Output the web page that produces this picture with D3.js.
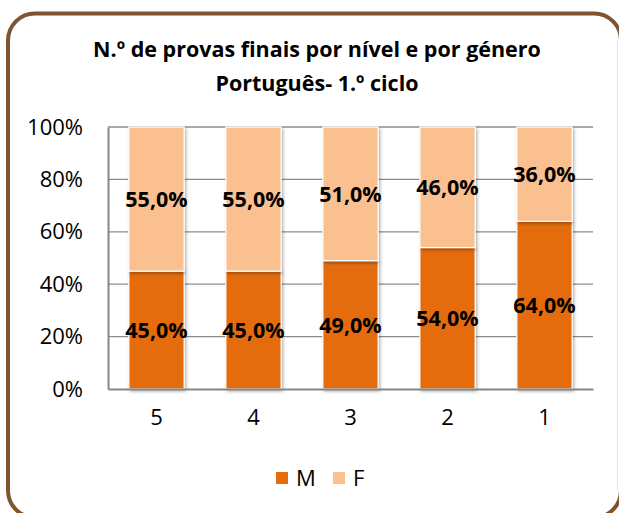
<!DOCTYPE html>
<html>
<head>
<meta charset="utf-8">
<script src="https://cdn.jsdelivr.net/npm/d3@7"></script>
<style>
  body { margin: 0; background: #fff; }
  text { font-family: "Open Sans", "Noto Sans", sans-serif; }
</style>
</head>
<body>
<div id="chart"></div>
<script>
var niveis = ["5", "4", "3", "2", "1"];
var masc = [45, 45, 49, 54, 64];
var fem = [55, 55, 51, 46, 36];
var series = ["M", "F"];
var yTicks = [0, 20, 40, 60, 80, 100];
var titulo = ["N.º de provas finais por nível e por género", "Português- 1.º ciclo"];

var W = 619, H = 513;
var margin = {top: 127, right: 26, bottom: 124, left: 108},
    width = W - margin.left - margin.right,
    height = H - margin.top - margin.bottom;
var cores = {M: "#E46C0A", F: "#FAC090"};

var svg = d3.select("#chart").append("svg")
    .attr("width", W)
    .attr("height", H);

var defs = svg.append("defs");
var sombra = defs.append("filter").attr("id", "sombra")
    .attr("x", "-20%").attr("y", "-5%").attr("width", "150%").attr("height", "115%");
sombra.append("feDropShadow")
    .attr("dx", 1.5).attr("dy", 2).attr("stdDeviation", 1.5)
    .attr("flood-color", "#000").attr("flood-opacity", 0.3);

// moldura
svg.append("rect")
    .attr("x", 8).attr("y", 13.5)
    .attr("width", 613).attr("height", 504)
    .attr("rx", 27)
    .attr("fill", "#fff")
    .attr("stroke", "#7F5530")
    .attr("stroke-width", 4);

svg.append("line")
    .attr("x1", 617.5).attr("x2", 617.5).attr("y1", 40).attr("y2", 490)
    .attr("stroke", "#e6e6e6");

// titulo
svg.selectAll(".titulo")
    .data(titulo)
    .enter().append("text")
    .attr("class", "titulo")
    .attr("x", 317)
    .attr("y", function (d, i) { return 57 + i * 34; })
    .attr("text-anchor", "middle")
    .attr("font-weight", "bold")
    .attr("font-size", 21.5)
    .attr("fill", "#000")
    .text(function (d) { return d; });

var g = svg.append("g")
    .attr("transform", "translate(" + margin.left + "," + margin.top + ")");

var x = d3.scaleBand().domain(niveis).range([0, width]).paddingInner(0.43).paddingOuter(0.215);
var y = d3.scaleLinear().domain([0, 100]).range([height, 0]);

// grelha
g.selectAll(".grid")
    .data(yTicks.slice(1))
    .enter().append("line")
    .attr("x1", 0).attr("x2", width)
    .attr("y1", function (d) { return y(d); })
    .attr("y2", function (d) { return y(d); })
    .attr("stroke", "#8c8c8c")
    .attr("stroke-width", 1.3);

var dados = niveis.map(function (n, i) { return {nivel: n, M: masc[i], F: fem[i]}; });
var pilha = d3.stack().keys(series)(dados);

var camadas = g.selectAll(".serie")
    .data(pilha)
    .enter().append("g")
    .attr("fill", function (d) { return cores[d.key]; });

camadas.selectAll("rect")
    .data(function (d) { return d; })
    .enter().append("rect")
    .attr("x", function (d) { return x(d.data.nivel); })
    .attr("y", function (d) { return y(d[1]); })
    .attr("width", x.bandwidth())
    .attr("height", function (d) { return y(d[0]) - y(d[1]); })
    .attr("stroke", "#fff")
    .attr("stroke-width", 1.2)
    .attr("filter", "url(#sombra)");

// eixos
var eixoY = g.append("g")
    .call(d3.axisLeft(y).tickValues(yTicks).tickSize(0).tickPadding(25)
        .tickFormat(function (d) { return d + "%"; }));
eixoY.select(".domain").attr("stroke", "#868686").attr("stroke-width", 2);
eixoY.selectAll("text").attr("font-size", 22).attr("fill", "#000")
    .attr("font-family", "'Open Sans', sans-serif");

var eixoX = g.append("g")
    .attr("transform", "translate(0," + height + ")")
    .call(d3.axisBottom(x).tickSize(0).tickPadding(20));
eixoX.select(".domain").attr("stroke", "#868686").attr("stroke-width", 2);
eixoX.selectAll("text").attr("font-size", 22).attr("fill", "#000")
    .attr("font-family", "'Open Sans', sans-serif");

// rotulos
camadas.selectAll(".rotulo")
    .data(function (d) { return d; })
    .enter().append("text")
    .attr("class", "rotulo")
    .attr("x", function (d) { return x(d.data.nivel) + x.bandwidth() / 2; })
    .attr("y", function (d) { return y((d[0] + d[1]) / 2); })
    .attr("dy", "0.38em")
    .attr("text-anchor", "middle")
    .attr("font-weight", "bold")
    .attr("font-size", 21.5)
    .attr("fill", "#000")
    .text(function (d) { return (d[1] - d[0]).toFixed(1).replace(".", ",") + "%"; });

// legenda
var leg = svg.append("g").attr("transform", "translate(276,472)");
var item = leg.selectAll(".item")
    .data(series)
    .enter().append("g")
    .attr("transform", function (d, i) { return "translate(" + (i * 57) + ",0)"; });
item.append("rect")
    .attr("width", 12).attr("height", 12)
    .attr("fill", function (d) { return cores[d]; });
item.append("text")
    .attr("x", 20).attr("y", 14)
    .attr("font-size", 22)
    .attr("fill", "#000")
    .text(function (d) { return d; });
</script>
</body>
</html>
